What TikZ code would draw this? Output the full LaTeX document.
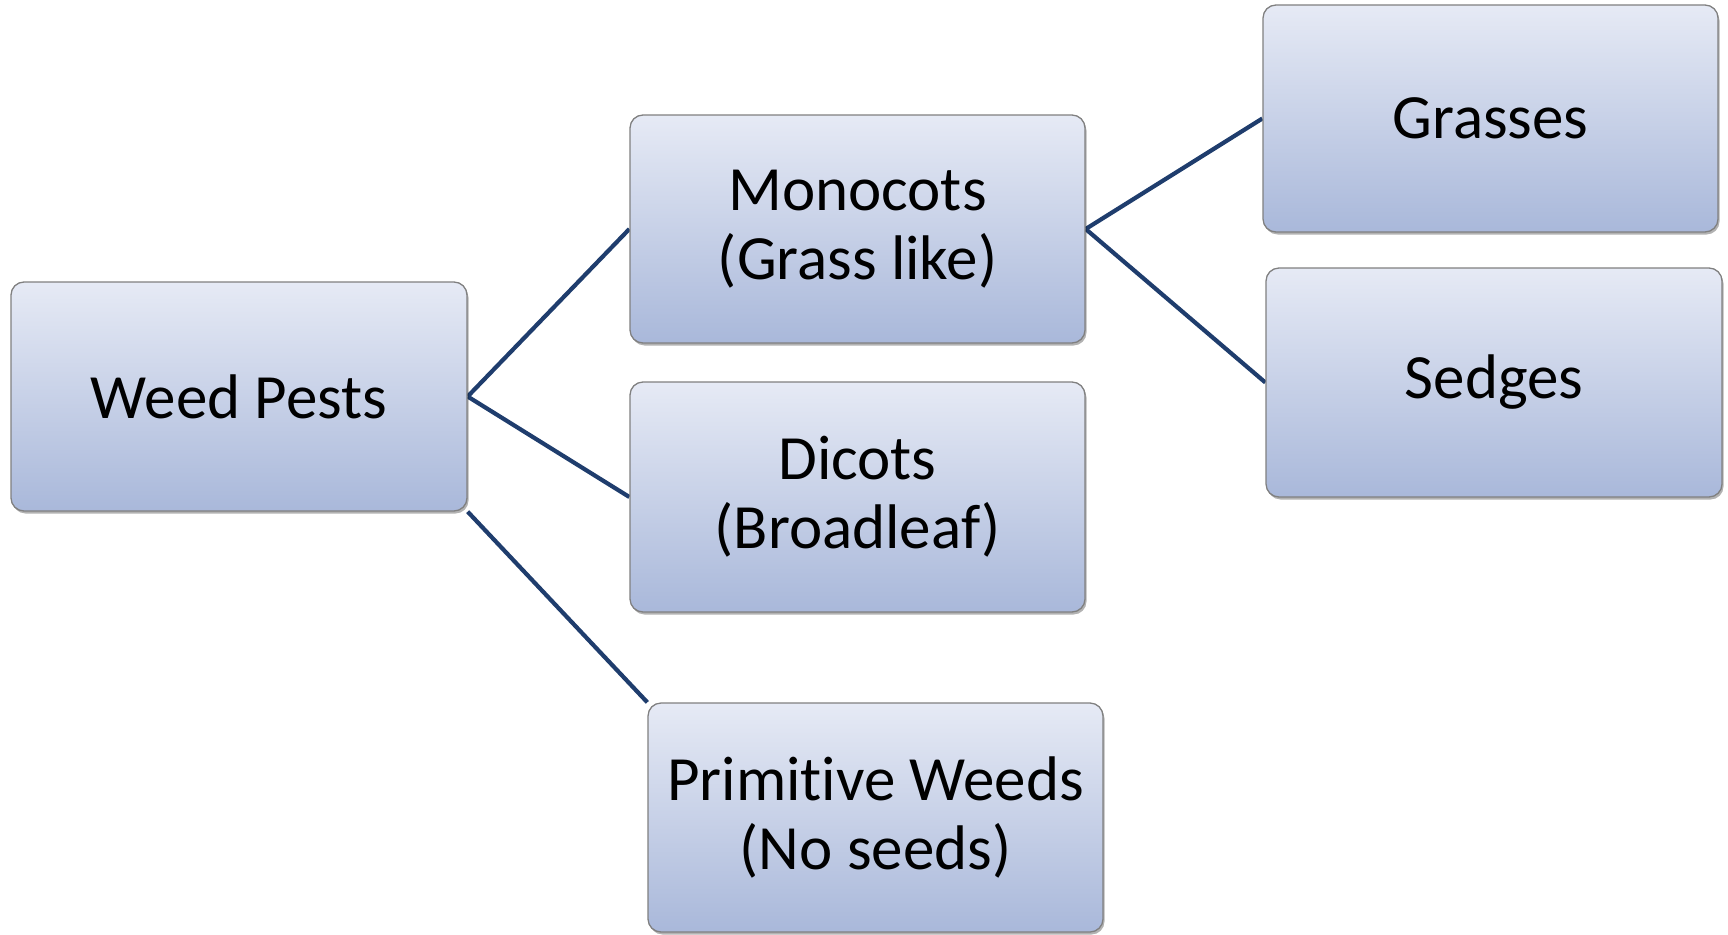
\documentclass[tikz,border=0pt]{standalone}
\usepackage{fontspec}
\setmainfont[Ligatures={NoCommon}]{Carlito}
\usetikzlibrary{shadows,backgrounds}
\definecolor{boxtop}{RGB}{230,234,245}
\definecolor{boxbot}{RGB}{169,184,218}
\definecolor{boxline}{RGB}{128,128,128}
\definecolor{conn}{RGB}{31,61,109}
\tikzset{
  wbox/.style={rectangle, rounded corners=13pt, draw=boxline, line width=1.3pt,
    top color=boxtop, bottom color=boxbot, minimum width=455pt, minimum height=228pt,
    inner sep=0pt, align=center, font=\fontsize{63}{69}\selectfont,
    drop shadow={shadow xshift=1.5pt, shadow yshift=-2.5pt, fill=black, opacity=0.3}},
  link/.style={draw=conn, line width=4.2pt}
}
\begin{document}
\begin{tikzpicture}[x=1pt,y=-1pt]
\useasboundingbox (0,0) rectangle (1728,934);
\node[wbox, minimum width=456pt, minimum height=229pt] (wp) at (239,396.5) {Weed Pests};
\node[wbox] (mono) at (857.5,229) {Monocots\\(Grass like)};
\node[wbox, minimum height=230pt] (dic) at (857.5,497) {Dicots\\(Broadleaf)};
\node[wbox, minimum height=229pt] (prim) at (875.5,817.5) {Primit\kern0pt ive Weeds\\(No seeds)};
\node[wbox, minimum width=455pt, minimum height=227pt] (gr) at (1490.5,118.5) {Grasses};
\node[wbox, minimum width=456pt, minimum height=229pt] (sed) at (1494,382.5) {Sedges};
\begin{pgfonlayer}{background}
\draw[link] (wp.east) -- (mono.west);
\draw[link] (wp.east) -- (dic.west);
\draw[link] (wp.south east) -- (prim.north west);
\draw[link] (mono.east) -- (gr.west);
\draw[link] (mono.east) -- (sed.west);
\end{pgfonlayer}
\end{tikzpicture}
\end{document}
